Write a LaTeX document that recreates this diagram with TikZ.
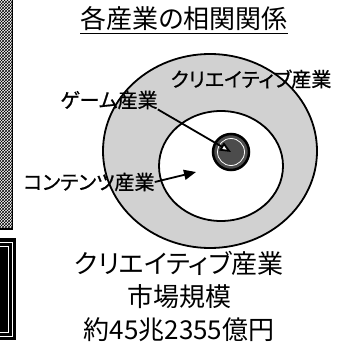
\documentclass[tikz,border=0pt]{standalone}
\usepackage{fontspec}
\newfontfamily\jpfont[RawFeature=+palt]{Noto Sans CJK JP}
\newfontfamily\jplabfont[RawFeature=+palt,FakeBold=0.8]{Noto Sans CJK JP}
\usetikzlibrary{shapes.geometric,arrows.meta,patterns}
\definecolor{RingGray}{gray}{0.82}
\definecolor{CoreGray}{gray}{0.3}

\begin{document}
\begin{tikzpicture}[x=1pt,y=-1pt,
  lab/.style={inner sep=0pt,font=\jplabfont\fontsize{20}{20}\selectfont},
  big/.style={inner sep=0pt,font=\jpfont\fontsize{26}{33}\selectfont},
  ptr/.style={-{Triangle[length=12pt,width=10pt]},line width=1.8pt}]
  \useasboundingbox (0,0) rectangle (338,350);
  % edge of the page
  \fill[pattern=crosshatch] (0,0) rectangle (12,229);
  \draw[line width=1.5pt] (12.5,0) -- (12.5,229) -- (0,229);
  \fill (-5,238) rectangle (16,340); \draw[white,line width=0.8pt] (-5,242) rectangle (12,336) (-5,246) rectangle (8,332);
  \node[big] (title) at (184,19) {各産業の相関関係};
  \draw[line width=1.2pt] ([yshift=-2pt]title.south west) -- ([yshift=-2pt]title.south east);
  % nested industries
  \node[ellipse,draw,line width=1.8pt,fill=RingGray,minimum width=214pt,minimum height=194pt] (creative) at (210,151) {};
  \node[ellipse,draw,line width=1.8pt,fill=white,minimum width=124pt,minimum height=110pt] (content) at (221,166) {};
  \node[circle,draw,line width=2.5pt,fill=CoreGray,minimum size=36pt] (gamecore) at (231,152) {};
  \draw[white,line width=0.8pt] (gamecore) circle (13.5pt);
  \node[lab] (creativelab) at (251,79) {クリエイティブ産業};
  \node[lab] (gamelab) at (109,100) {ゲーム産業};
  \node[lab] (contlab) at (89,182) {コンテンツ産業};
  \coordinate (contpt) at (196,172);
  \draw[line width=1.8pt,-{Triangle[length=11pt,width=9pt,fill=white]}] (gamelab.south east) -- (gamecore.center);
  \draw[ptr] (contlab.east) -- (contpt);
  \node[big,align=center] (market) at (179,296) {クリエイティブ産業\\市場規模\\約45兆2355億円};
\end{tikzpicture}
\end{document}
